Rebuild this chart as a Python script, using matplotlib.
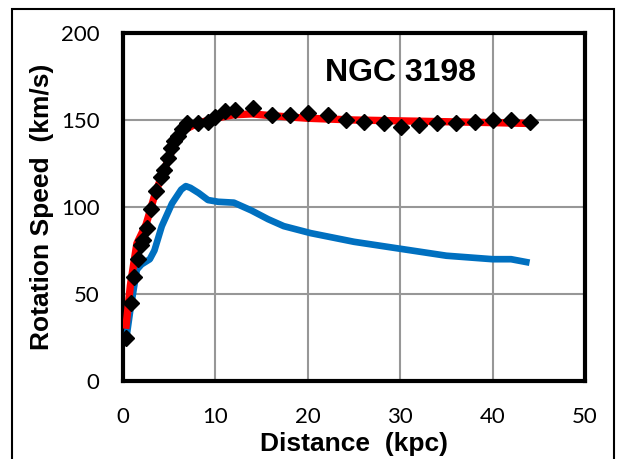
import matplotlib
matplotlib.use("Agg")
import matplotlib.pyplot as plt
from matplotlib.patches import Rectangle

# observed rotation speeds (black diamonds)
obs_r = [0.3, 0.9, 1.2, 1.6, 1.9, 2.2, 2.6, 3.0, 3.6, 4.1, 4.4, 4.9, 5.2, 5.5, 5.9,
         6.4, 6.9, 8.1, 9.2, 10.0, 11.0, 12.1, 14.1, 16.1, 18.1, 20.0, 22.2, 24.1,
         26.1, 28.2, 30.1, 32.0, 34.0, 36.0, 38.1, 40.0, 42.0, 44.0]
obs_v = [25, 45, 60, 70, 78, 81, 88, 99, 109, 117, 121, 128, 134, 138, 141,
         145, 148, 148, 149, 152, 155, 156, 157, 153, 153, 154, 153, 150,
         149, 148, 146, 147, 148, 148, 149, 150, 150, 149]

# model fit (red)
fit_r = [0.3, 0.8, 1.5, 2.5, 3.5, 4.5, 5.5, 6.5, 8, 10, 12, 14, 16, 20, 25, 30, 35, 40, 44]
fit_v = [30, 55, 79, 90, 108, 122, 135, 144, 148, 151, 153, 153.5, 152.5, 151, 150,
         149.5, 149, 148.5, 148]

# visible matter (blue)
vis_r = [0.4, 0.8, 1.5, 2.0, 2.9, 3.4, 4.2, 5.3, 6.3, 6.8, 7.3, 8.2, 9.2, 10.3, 12.0,
         13.9, 15.7, 17.4, 20.3, 25, 30, 35, 40, 42, 44]
vis_v = [26, 41, 64, 67, 70, 75, 89, 102, 110, 112, 111, 108, 104, 103, 102.5,
         98, 93, 89, 85, 80, 76, 72, 70, 70, 68]

fig = plt.figure(figsize=(6.18, 4.59), dpi=100)
ax = fig.add_axes([123 / 618, 1 - 381 / 459, (585 - 123) / 618, (381 - 33) / 459])

ax.plot(vis_r, vis_v, color="#0070C0", lw=4.8, solid_capstyle="butt", zorder=3)
ax.plot(fit_r, fit_v, color="#FF0000", lw=5.3, solid_capstyle="butt", zorder=4)
ax.plot(obs_r, obs_v, "D", color="black", ms=8, zorder=5)

ax.set_xlim(0, 50)
ax.set_ylim(0, 200)
ax.set_xticks(range(0, 51, 10))
ax.set_yticks(range(0, 201, 50))
ax.grid(True, color="#979797", lw=1.5)
ax.set_axisbelow(True)
for s in ax.spines.values():
    s.set_linewidth(3)
ax.tick_params(length=0, labelsize=16)
ax.tick_params(axis="x", pad=19)
ax.tick_params(axis="y", pad=17)
for lab in ax.get_xticklabels() + ax.get_yticklabels():
    lab.set_family("Lato")

ax.set_xlabel("Distance  (kpc)", fontsize=19, fontweight="bold",
              family="Liberation Sans", labelpad=3)
ax.set_ylabel("Rotation Speed  (km/s)", fontsize=19, fontweight="bold",
              family="Liberation Sans", labelpad=5)
ax.text(30, 177, "NGC 3198", fontsize=23, fontweight="bold",
        family="Liberation Sans", ha="center", va="center")

# outer chart frame
fig.patches.append(Rectangle((12 / 618, -0.05), (614 - 12) / 618, 1.05 - 9 / 459,
                             transform=fig.transFigure, fill=False,
                             edgecolor="black", lw=1.5))

fig.savefig("out.png", dpi=100)
